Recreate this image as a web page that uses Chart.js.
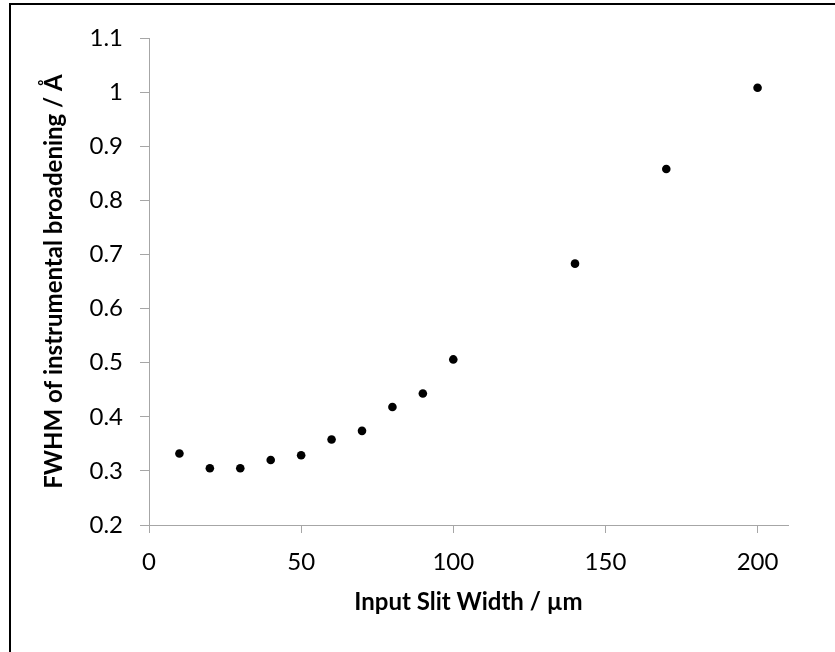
<!DOCTYPE html>
<html>
<head>
<meta charset="utf-8">
<script src="https://cdn.jsdelivr.net/npm/chart.js@4/dist/chart.umd.min.js"></script>
<style>
  html, body { margin: 0; padding: 0; background: #fff; overflow: hidden; }
  #frame {
    position: absolute; left: 9px; top: 3px; width: 900px; height: 700px;
    border-left: 2px solid #000; border-top: 2px solid #000;
  }
  #wrap { position: absolute; left: 0; top: 0; width: 835px; height: 652px; }
</style>
</head>
<body>
<div id="frame"></div>
<div id="wrap"><canvas id="chart" width="835" height="652"></canvas></div>
<script>
const slit_width = [10, 20, 30, 40, 50, 60, 70, 80, 90, 100, 140, 170, 200];
const fwhm = [0.332, 0.305, 0.305, 0.320, 0.329, 0.358, 0.374, 0.418, 0.443, 0.506, 0.683, 0.858, 1.008];
const x_ticks = [0, 50, 100, 150, 200];
const y_ticks = [0.2, 0.3, 0.4, 0.5, 0.6, 0.7, 0.8, 0.9, 1, 1.1];

const font_family = "Lato, 'Open Sans', sans-serif";
const axis_color = "#a6a6a6";

const ctx = document.getElementById("chart");

let points = slit_width.map((x, i) => ({x: x, y: fwhm[i]}));

let chart = new Chart(ctx, {
    type: "scatter",
    data: {
        datasets: [{
            label: "FWHM",
            data: points,
            pointRadius: 4.3,
            pointBackgroundColor: "#000",
            pointBorderWidth: 0,
            showLine: false
        }]
    },
    options: {
        responsive: false,
        animation: false,
        layout: { padding: { left: 36, top: 38, right: 47, bottom: 31 } },
        plugins: { legend: { display: false }, tooltip: { enabled: false } },
        scales: {
            x: {
                type: "linear",
                min: 0,
                max: 210,
                afterBuildTicks: (scale) => { scale.ticks = x_ticks.map(v => ({value: v})); },
                afterFit: (scale) => { scale.height = 96; },
                grid: { drawOnChartArea: false, drawTicks: true, tickLength: 8, color: axis_color },
                border: { color: axis_color, width: 1 },
                ticks: { color: "#000", padding: 15, font: { family: font_family, size: 24 } },
                title: {
                    display: true,
                    text: "Input Slit Width / µm",
                    color: "#000",
                    font: { family: font_family, size: 24, weight: "bold" }
                }
            },
            y: {
                type: "linear",
                min: 0.2,
                max: 1.1,
                afterBuildTicks: (scale) => { scale.ticks = y_ticks.map(v => ({value: v})); },
                afterFit: (scale) => { scale.width = 113; },
                grid: { drawOnChartArea: false, drawTicks: true, tickLength: 9, color: axis_color },
                border: { color: axis_color, width: 1 },
                ticks: {
                    color: "#000",
                    padding: 17,
                    font: { family: font_family, size: 24 },
                    callback: (v) => String(Math.round(v * 10) / 10)
                },
                title: {
                    display: true,
                    text: "FWHM of instrumental broadening / Å",
                    color: "#000",
                    font: { family: font_family, size: 24, weight: "bold" }
                }
            }
        }
    }
});
</script>
</body>
</html>
